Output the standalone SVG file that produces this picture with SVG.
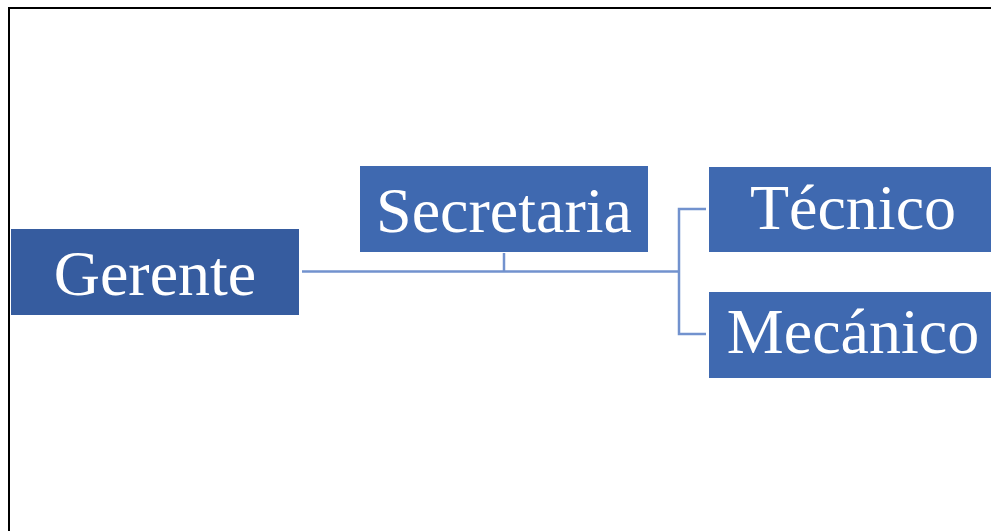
<svg xmlns="http://www.w3.org/2000/svg" width="991" height="531" viewBox="0 0 991 531">
<style>
.box{fill:#3F69B0}
.lbl{font-family:"Liberation Serif","Times New Roman",serif;font-size:64px;fill:#fff;text-anchor:middle}
.con{fill:none;stroke:#7292CE;stroke-width:2.5}
</style>
<rect width="991" height="531" fill="#fff"/>
<path d="M9 531 V8 H991" fill="none" stroke="#000" stroke-width="2"/>
<g id="connectors">
<path class="con" d="M302 271.5 H679"/>
<path class="con" d="M504 253 V271.5"/>
<path class="con" d="M706 209 H679 V334 H706"/>
</g>
<g id="gerente">
<rect x="11" y="229" width="288" height="86" fill="#365C9F"/>
<text class="lbl" x="155" y="295">Gerente</text>
</g>
<g id="secretaria">
<rect class="box" x="360" y="166" width="288" height="86"/>
<text class="lbl" x="504" y="232">Secretaria</text>
</g>
<g id="tecnico">
<rect class="box" x="709" y="167" width="288" height="85"/>
<text class="lbl" x="853" y="229">Técnico</text>
</g>
<g id="mecanico">
<rect class="box" x="709" y="292" width="288" height="86"/>
<text class="lbl" x="853" y="353">Mecánico</text>
</g>
</svg>
